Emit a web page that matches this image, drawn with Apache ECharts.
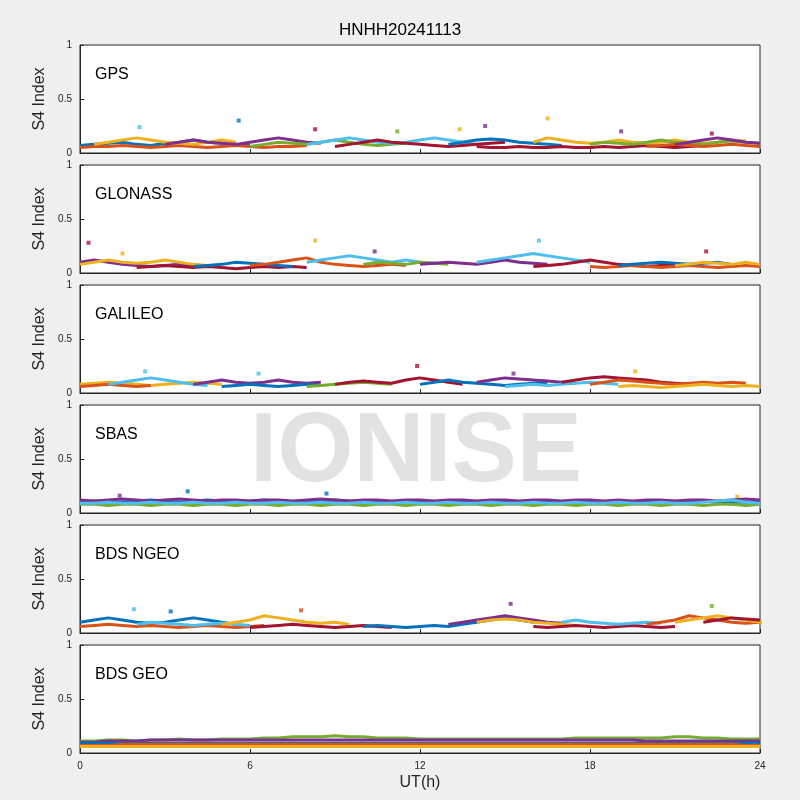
<!DOCTYPE html>
<html>
<head>
<meta charset="utf-8">
<script src="https://cdn.jsdelivr.net/npm/echarts@6/dist/echarts.min.js"></script>
<style>html,body{margin:0;background:#f0f0f0}#main{width:800px;height:800px}</style>
</head>
<body>
<div id="main"></div>
<script>
// MATLAB default line colours
const colors = ['#0072BD', '#D95319', '#EDB120', '#7E2F8E', '#77AC30', '#4DBEEE', '#A2142F'];
const panelNames = ['GPS', 'GLONASS', 'GALILEO', 'SBAS', 'BDS NGEO', 'BDS GEO'];
const xTicks = [0, 6, 12, 18, 24];
const yTicks = [0, 0.5, 1];

// tracks: [colour index, start hour, S4 values every 0.5 h]
const gpsTracks = [
    [0, 0, [.07, .08, .09, .1, .08, .07, .09, .1, .12, .1, .09, .08, .07]],
    [1, 0, [.05, .06, .06, .07, .06, .05, .06, .07, .06, .05, .06, .07, .06, .05, .06, .06, .07]],
    [2, 0.5, [.08, .1, .12, .14, .12, .1, .09, .08, .1, .12, .1]],
    [3, 3, [.08, .1, .12, .1, .09, .08, .1, .12, .14, .12, .1, .09]],
    [4, 6, [.06, .08, .1, .09, .08, .1, .12, .1, .08, .07, .08, .09]],
    [5, 8, [.08, .1, .12, .14, .12, .1, .09, .1, .12, .14, .12, .1, .08]],
    [6, 9, [.06, .08, .1, .12, .1, .09, .08, .07, .06, .07, .08, .09, .1]],
    [0, 13, [.08, .1, .12, .13, .12, .1, .09, .08, .07]],
    [6, 14, [.06, .05, .05, .06, .05, .05, .06, .05, .05, .06, .05, .06, .07, .06, .05, .06, .07]],
    [2, 16, [.1, .14, .12, .1, .09, .1, .12, .1, .09, .1, .12, .1, .09, .1, .12, .11]],
    [4, 18, [.08, .1, .09, .08, .1, .12, .1, .09, .08, .1, .11, .1, .09]],
    [1, 20, [.06, .07, .08, .07, .06, .07, .08, .07, .06]],
    [3, 21, [.08, .1, .12, .14, .12, .1, .09]]
];
const glonassTracks = [
    [3, 0, [.1, .12, .1, .08, .07, .06, .07, .08, .07]],
    [2, 0, [.08, .1, .12, .1, .09, .1, .12, .1, .08, .07]],
    [6, 2, [.05, .06, .07, .06, .05, .06, .05, .04, .05, .06, .05, .06, .05]],
    [0, 4, [.06, .07, .08, .1, .09, .08, .07, .06]],
    [1, 6, [.07, .08, .1, .12, .14, .1, .08, .07, .06, .07, .08, .07]],
    [5, 8, [.1, .12, .14, .16, .14, .12, .1, .12, .1, .09]],
    [4, 10, [.08, .1, .09, .08, .1, .09, .08]],
    [3, 12, [.08, .09, .1, .09, .08, .1, .12, .1, .09, .08]],
    [5, 14, [.1, .12, .14, .16, .18, .16, .14, .12, .1]],
    [6, 16, [.06, .07, .08, .1, .12, .1, .08, .07, .06, .07, .08, .07]],
    [1, 18, [.06, .05, .06, .07, .06, .05, .06, .07, .06, .05, .06, .07, .06]],
    [0, 19, [.07, .08, .09, .1, .09, .08, .09, .1, .08]],
    [2, 21, [.07, .08, .1, .09, .08, .1, .08]]
];
const galileoTracks = [
    [2, 0, [.08, .09, .1, .09, .08, .07, .08, .09, .1, .09, .08]],
    [1, 0, [.06, .07, .08, .07, .06, .07]],
    [5, 1, [.08, .1, .12, .14, .12, .1, .08, .07]],
    [3, 4, [.08, .1, .12, .1, .09, .1, .12, .1, .09, .1]],
    [0, 5, [.06, .07, .08, .07, .06, .07, .08, .07]],
    [4, 8, [.06, .07, .08, .09, .1, .09, .08]],
    [6, 9, [.08, .1, .11, .1, .09, .12, .14, .12, .1, .08]],
    [0, 12, [.08, .1, .12, .1, .09, .08, .07, .08, .09, .1]],
    [3, 14, [.1, .12, .14, .13, .12, .11, .1, .09]],
    [5, 15, [.06, .07, .08, .07, .08, .09, .1, .09, .08]],
    [6, 17, [.1, .12, .14, .15, .14, .13, .12, .1, .09, .08]],
    [1, 18, [.08, .1, .12, .11, .1, .09, .08, .09, .1, .09, .1, .09]],
    [2, 19, [.06, .07, .06, .05, .06, .07, .08, .07, .06, .07, .06]]
];
const sbasTracks = [
    [0, 0, [.1, .11, .1, .1, .11, .12, .11, .1, .11, .12, .11, .1, .11, .12, .11, .1, .1, .11, .12, .11, .1, .11, .1, .1, .11, .1, .1, .11, .1, .1, .11, .1, .1, .11, .1, .1, .11, .1, .1, .1, .11, .1, .1, .1, .11, .1, .1, .1, .1]],
    [3, 0, [.12, .11, .12, .13, .12, .11, .12, .13, .12, .11, .12, .12, .11, .12, .12, .11, .12, .13, .12, .11, .12, .12, .11, .12, .12, .11, .12, .12, .11, .12, .12, .11, .12, .12, .11, .12, .12, .11, .12, .11, .12, .12, .11, .12, .12, .11, .12, .13, .12]],
    [4, 0, [.08, .08, .07, .08, .08, .07, .08, .08, .07, .08, .08, .07, .08, .08, .07, .08, .08, .07, .08, .08, .07, .08, .08, .07, .08, .08, .07, .08, .08, .07, .08, .08, .07, .08, .08, .07, .08, .08, .07, .08, .08, .07, .08, .08, .07, .08, .08, .07, .08]],
    [5, 0, [.09, .09, .1, .09, .09, .1, .09, .09, .1, .09, .09, .1, .09, .09, .1, .09, .09, .1, .09, .09, .1, .09, .09, .1, .09, .09, .1, .09, .09, .1, .09, .09, .1, .09, .09, .1, .09, .09, .1, .09, .09, .1, .09, .09, .1, .11, .12, .1, .09]]
];
const ngeoTracks = [
    [0, 0, [.1, .12, .14, .12, .1, .09, .1, .12, .14, .12, .1, .08]],
    [1, 0, [.06, .07, .08, .07, .06, .07, .06, .05, .06, .07, .06, .05, .06, .07]],
    [5, 2, [.08, .1, .09, .08, .07, .08, .09, .08, .07]],
    [2, 5, [.08, .1, .12, .16, .14, .12, .1, .09, .1, .08]],
    [6, 6, [.05, .06, .07, .08, .07, .06, .05, .06, .07, .06, .05]],
    [0, 10, [.06, .07, .06, .05, .06, .07, .06, .08, .1, .12, .14, .12, .1]],
    [3, 13, [.08, .1, .12, .14, .16, .14, .12, .1, .09]],
    [2, 14, [.1, .12, .13, .12, .1, .09, .08, .07]],
    [6, 16, [.06, .05, .06, .07, .06, .05, .06, .07, .06, .05, .06]],
    [5, 17, [.1, .12, .1, .09, .08, .09, .1, .09]],
    [1, 20, [.08, .1, .12, .16, .14, .12, .1, .09, .1]],
    [2, 21, [.1, .12, .14, .16, .14, .12, .1, .09]],
    [6, 22, [.1, .12, .14, .13, .12]]
];
const geoTracks = [
    [4, 0, [.11, .11, .12, .12, .11, .12, .12, .13, .12, .12, .13, .13, .13, .14, .14, .15, .15, .15, .16, .15, .15, .14, .14, .14, .13, .13, .13, .13, .13, .13, .13, .13, .13, .13, .13, .14, .14, .14, .14, .14, .14, .14, .15, .15, .14, .14, .13, .13, .13]],
    [3, 0, [.1, .1, .11, .11, .11, .12, .12, .12, .12, .12, .12, .12, .12, .12, .12, .12, .12, .12, .12, .12, .12, .12, .12, .12, .12, .12, .12, .12, .12, .12, .12, .12, .12, .12, .12, .12, .12, .12, .12, .12, .11, .11, .11, .11, .11, .11, .11, .11, .11]],
    [0, 0, [.09, .09, .09, .09, .09, .09, .09, .09, .09, .09, .09, .09, .09, .09, .09, .09, .09, .09, .09, .09, .09, .09, .09, .09, .09, .09, .09, .09, .09, .09, .09, .09, .09, .09, .09, .09, .09, .09, .09, .09, .09, .09, .09, .09, .09, .09, .09, .09, .09]],
    [1, 0, [.07, .07, .07, .08, .08, .08, .08, .08, .08, .08, .08, .08, .08, .08, .08, .08, .08, .08, .08, .08, .08, .08, .08, .08, .08, .08, .08, .08, .08, .08, .08, .08, .08, .08, .08, .08, .08, .08, .08, .08, .08, .08, .08, .08, .08, .08, .08, .07, .07]],
    [2, 0, [.06, .06, .06, .06, .06, .06, .06, .06, .06, .06, .06, .06, .06, .06, .06, .06, .06, .06, .06, .06, .06, .06, .06, .06, .06, .06, .06, .06, .06, .06, .06, .06, .06, .06, .06, .06, .06, .06, .06, .06, .06, .06, .06, .06, .06, .06, .06, .06, .06]]
];
// isolated spikes: [hour, S4, colour index]
const gpsSpikes = [[5.6, .3, 0], [16.5, .32, 2], [14.3, .25, 3], [2.1, .24, 5], [8.3, .22, 6], [11.2, .2, 4], [13.4, .22, 2], [19.1, .2, 3], [22.3, .18, 6]];
const glonassSpikes = [[0.3, .28, 6], [8.3, .3, 2], [16.2, .3, 5], [1.5, .18, 2], [10.4, .2, 3], [22.1, .2, 6]];
const galileoSpikes = [[11.9, .25, 6], [2.3, .2, 5], [6.3, .18, 5], [19.6, .2, 2], [15.3, .18, 3]];
const sbasSpikes = [[3.8, .2, 0], [8.7, .18, 0], [1.4, .16, 3], [23.2, .15, 2]];
const ngeoSpikes = [[15.2, .27, 3], [1.9, .22, 5], [22.3, .25, 4], [7.8, .21, 1], [3.2, .2, 0]];
const geoSpikes = [];

const panels = [
    [gpsTracks, gpsSpikes], [glonassTracks, glonassSpikes], [galileoTracks, galileoSpikes],
    [sbasTracks, sbasSpikes], [ngeoTracks, ngeoSpikes], [geoTracks, geoSpikes]
];

const grids = [], xAxes = [], yAxes = [], series = [], graphic = [];
panels.forEach(([tracks, spikes], i) => {
    const top = 45 + i * 120;
    grids.push({left: 80, right: 40, top: top, height: 108, backgroundColor: '#fff', show: true, borderColor: '#262626', borderWidth: 1});
    xAxes.push({
        gridIndex: i, type: 'value', min: 0, max: 24, interval: 6,
        axisLine: {lineStyle: {color: '#262626'}}, axisTick: {inside: true, length: 4},
        axisLabel: {show: i === 5, color: '#262626', fontSize: 10},
        splitLine: {show: false},
        name: i === 5 ? 'UT(h)' : '', nameLocation: 'middle', nameGap: 22,
        nameTextStyle: {fontSize: 16, color: '#262626'}
    });
    yAxes.push({
        gridIndex: i, type: 'value', min: 0, max: 1, interval: 0.5,
        axisLine: {show: true, lineStyle: {color: '#262626'}}, axisTick: {show: true, inside: true, length: 4},
        axisLabel: {color: '#262626', fontSize: 10},
        splitLine: {show: false},
        name: 'S4 Index', nameLocation: 'middle', nameGap: 30, nameRotate: 90,
        nameTextStyle: {fontSize: 16, color: '#262626'}
    });
    tracks.forEach(([c, start, vals]) => {
        series.push({
            type: 'line', xAxisIndex: i, yAxisIndex: i, showSymbol: false, silent: true,
            data: vals.map((v, k) => [start + k * 0.5, v]),
            lineStyle: {color: colors[c], width: 3}
        });
    });
    series.push({
        type: 'scatter', xAxisIndex: i, yAxisIndex: i, symbol: 'rect', symbolSize: 4, silent: true,
        data: spikes.map(([t, v, c]) => ({value: [t, v], itemStyle: {color: colors[c]}}))
    });
    graphic.push({type: 'text', left: 95, top: top + 22, style: {text: panelNames[i], fontSize: 16, fill: '#000', fontFamily: 'Liberation Sans'}});
});
graphic.push({type: 'text', left: 250, top: 405, z: 100, style: {text: 'IONISE', fontSize: 98, fontWeight: 'bold', fill: 'rgba(190,190,190,0.45)', fontFamily: 'Liberation Sans'}});

const chart = echarts.init(document.getElementById('main'));
chart.setOption({
    backgroundColor: '#f0f0f0',
    animation: false,
    textStyle: {fontFamily: 'Liberation Sans'},
    title: {text: 'HNHH20241113', left: 'center', top: 17, textStyle: {fontSize: 17, fontWeight: 'normal', color: '#000'}},
    grid: grids, xAxis: xAxes, yAxis: yAxes, series: series, graphic: graphic
});
</script>
</body>
</html>
